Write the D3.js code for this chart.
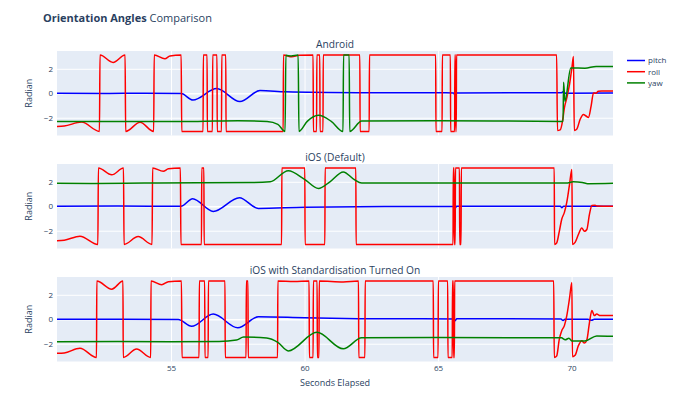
<!DOCTYPE html>
<html>
<head>
<meta charset="utf-8">
<script src="https://cdn.jsdelivr.net/npm/d3@7"></script>
<style>
  body { margin: 0; background: #fff; }
  text { font-family: "Open Sans", verdana, arial, sans-serif; fill: #2a3f5f; }
</style>
</head>
<body>
<div id="chart"></div>
<script>
// ---- data (seconds elapsed, radian) ----
var panelTitles = ["Android", "iOS (Default)", "iOS with Standardisation Turned On"];
var seriesNames = ["pitch", "roll", "yaw"];
var xTicks = [55, 60, 65, 70];
var yTicks = [-2, 0, 2];

var androidPitch = [
  [50.73, 0.0], [52.5, -0.02], [54.0, 0.0], [55.38, -0.03], [55.82, -0.55], [56.71, 0.38],
  [57.58, -0.68], [58.33, 0.22], [59.3, 0.12], [62.0, 0.05], [65.58, 0.03], [65.63, -0.15],
  [65.69, 0.03], [69.62, 0.04], [69.7, 0.15], [69.76, 0.0], [71.55, 0.02]
];
var androidRoll = [
  [50.73, -2.72], [51.0, -2.68], [51.65, -2.36], [52.32, -3.12], [52.34, 3.12], [52.83, 2.52],
  [53.28, 3.12], [53.3, -3.12], [53.84, -2.38], [54.35, -3.12], [54.37, 3.12], [54.77, 2.82],
  [54.96, 3.05], [55.38, 3.12], [55.4, -3.12], [56.2, -3.12], [56.21, 3.12], [56.35, 3.12],
  [56.36, -3.12], [56.55, -3.12], [56.56, 3.12], [56.72, 3.12], [56.73, -3.12], [56.89, -3.12],
  [56.9, 3.12], [57.05, 3.12], [57.06, -3.12], [59.2, -3.12], [59.21, 3.12], [59.52, 2.98],
  [59.8, 3.1], [60.32, 3.12], [60.33, -3.12], [60.45, -3.12], [60.46, 3.12], [60.57, 3.12],
  [60.58, -3.12], [60.69, -3.12], [60.7, 3.12], [62.07, 3.12], [62.08, -3.12], [62.42, -3.12],
  [62.43, 3.12], [64.91, 3.12], [64.92, -3.12], [65.15, -3.12], [65.16, 3.12], [65.46, 3.12],
  [65.47, -3.12], [65.62, -3.12], [65.63, 3.12], [65.65, 3.12], [65.66, -3.12], [65.68, -3.12],
  [65.69, 3.12], [69.44, 3.12], [69.47, -3.05], [69.57, -3.0], [69.66, -2.27], [69.73, -1.19],
  [69.82, -0.38], [69.92, 0.7], [70.01, 2.06], [70.07, 3.0], [70.1, -3.05], [70.19, -2.95],
  [70.32, -2.13], [70.44, -1.73], [70.54, -1.86], [70.63, -1.98], [70.73, -1.05], [70.82, 0.03],
  [70.91, 0.0], [71.0, 0.16], [71.13, 0.19], [71.55, 0.19]
];
var androidYaw = [
  [50.73, -2.3], [52.0, -2.3], [54.0, -2.32], [56.0, -2.3], [57.5, -2.25], [58.6, -2.32],
  [59.0, -2.55], [59.27, -3.12], [59.3, 3.1], [59.5, 3.05], [59.76, 3.12], [59.79, -3.12],
  [60.1, -2.3], [60.52, -1.8], [61.0, -2.3], [61.44, -3.12], [61.46, 3.12], [61.67, 3.12],
  [61.69, -3.12], [62.14, -2.27], [65.0, -2.25], [69.68, -2.3], [69.7, 0.9], [69.75, -0.65],
  [69.97, 2.06], [70.5, 2.05], [70.92, 2.19], [71.55, 2.19]
];

var iosPitch = [
  [50.73, 0.0], [53.0, 0.02], [55.37, 0.0], [55.81, 0.62], [56.58, -0.42], [57.56, 0.7],
  [58.27, -0.18], [60.0, -0.08], [63.0, -0.03], [65.6, -0.02], [65.64, -0.15], [65.7, 0.0],
  [69.58, 0.0], [69.63, -0.12], [69.7, 0.0], [71.55, 0.0]
];
var iosRoll = [
  [50.73, -2.82], [51.0, -2.78], [51.59, -2.45], [52.26, -3.12], [52.28, 3.12], [52.78, 2.57],
  [53.22, 3.12], [53.24, -3.12], [53.77, -2.48], [54.29, -3.12], [54.31, 3.12], [54.71, 2.86],
  [54.9, 3.06], [55.35, 3.12], [55.37, -3.12], [56.14, -3.12], [56.15, 3.12], [56.23, 3.12],
  [56.24, -3.12], [59.14, -3.12], [59.15, 3.12], [60.01, 3.12], [60.02, -3.12], [60.76, -3.12],
  [60.77, 3.12], [61.92, 3.12], [61.93, -3.12], [65.56, -3.12], [65.57, 3.12], [65.6, 3.12],
  [65.61, -3.12], [65.64, -3.12], [65.65, 3.12], [65.8, 3.12], [65.81, -3.12], [65.86, -3.12],
  [65.87, 3.12], [69.35, 3.12], [69.36, -3.12], [69.44, -3.0], [69.54, -2.05], [69.63, -1.06],
  [69.73, -0.5], [69.82, 0.34], [69.92, 1.75], [70.01, 3.0], [70.03, -3.12], [70.13, -2.95],
  [70.25, -2.33], [70.38, -1.77], [70.48, -2.05], [70.57, -1.9], [70.67, -0.64], [70.76, 0.06],
  [70.88, 0.08], [70.94, 0.02], [71.55, 0.0]
];
var iosYaw = [
  [50.73, 1.88], [52.0, 1.86], [54.0, 1.9], [56.0, 1.92], [58.0, 1.94], [58.71, 2.0],
  [59.39, 2.9], [60.0, 2.2], [60.52, 1.45], [60.95, 2.0], [61.45, 2.8], [61.85, 2.2],
  [62.14, 1.9], [65.0, 1.9], [69.8, 1.9], [70.06, 2.0], [70.4, 1.95], [70.6, 1.85],
  [71.55, 1.88]
];

var stdPitch = [
  [50.73, 0.0], [53.0, 0.0], [55.27, -0.02], [55.77, -0.58], [56.58, 0.42], [57.5, -0.7],
  [58.27, 0.2], [60.0, 0.12], [62.0, 0.05], [65.6, 0.02], [65.64, -0.12], [65.7, 0.05],
  [69.6, 0.03], [69.68, -0.1], [69.75, 0.0], [70.6, 0.0], [70.75, -0.08], [70.85, 0.0],
  [71.55, 0.0]
];
var stdRoll = [
  [50.73, -2.78], [51.0, -2.75], [51.59, -2.37], [52.21, -3.12], [52.22, 3.12], [52.78, 2.46],
  [53.2, 3.12], [53.21, -3.12], [53.71, -2.44], [54.24, -3.12], [54.25, 3.12], [54.65, 2.82],
  [54.9, 3.07], [55.39, 3.12], [55.41, -3.12], [56.05, -3.12], [56.06, 3.12], [56.26, 3.12],
  [56.27, -3.12], [56.39, -3.12], [56.4, 3.12], [57.02, 3.12], [57.03, -3.12], [57.81, -3.12],
  [57.82, 3.12], [57.88, 3.12], [57.89, -3.12], [58.99, -3.12], [59.0, 3.12], [59.6, 3.08],
  [60.17, 3.12], [60.18, -3.12], [60.32, -3.12], [60.33, 3.12], [60.47, 3.12], [60.48, -3.12],
  [60.54, -3.12], [60.55, 3.12], [61.45, 3.05], [62.02, 3.12], [62.03, -3.12], [62.26, -3.12],
  [62.27, 3.12], [64.82, 3.12], [64.83, -3.12], [65.0, -3.12], [65.01, 3.12], [65.36, 3.12],
  [65.37, -3.12], [65.53, -3.12], [65.54, 3.12], [65.57, 3.12], [65.58, -3.12], [65.61, -3.12],
  [65.62, 3.12], [69.33, 3.12], [69.35, -3.12], [69.44, -3.0], [69.54, -1.63], [69.63, -0.94],
  [69.73, -0.52], [69.82, 0.3], [69.92, 1.68], [70.01, 3.0], [70.03, -3.06], [70.13, -2.95],
  [70.25, -2.18], [70.38, -1.76], [70.48, -1.95], [70.57, -1.7], [70.67, -0.25], [70.76, 0.72],
  [70.85, 0.3], [70.94, 0.42], [71.07, 0.3], [71.55, 0.3]
];
var stdYaw = [
  [50.73, -1.84], [53.0, -1.82], [55.0, -1.84], [56.8, -1.82], [57.45, -1.7], [57.72, -1.45],
  [58.58, -1.54], [59.0, -1.9], [59.39, -2.59], [60.46, -1.07], [61.45, -2.42], [62.14, -1.52],
  [65.0, -1.5], [69.62, -1.52], [69.76, -1.68], [69.9, -1.55], [70.01, -1.77], [70.5, -1.77],
  [70.94, -1.37], [71.55, -1.4]
];

var panels = [
  [androidPitch, androidRoll, androidYaw],
  [iosPitch, iosRoll, iosYaw],
  [stdPitch, stdRoll, stdYaw]
];

// ---- layout ----
var width = 674, height = 400;
var plotLeft = 57, plotRight = 613;
var panelTops = [51, 164, 277], panelHeight = 84.5;
var colors = ["#0000ff", "#ff0000", "#008000"];
var fontStack = "'Open Sans', verdana, arial, sans-serif";

var svg = d3.select("#chart")
  .append("svg")
    .attr("width", width)
    .attr("height", height);

var x = d3.scaleLinear()
  .domain([50.73, 71.55])
  .range([plotLeft, plotRight]);

// chart title
var title = svg.append("text")
  .attr("x", 43)
  .attr("y", 21.5)
  .attr("text-anchor", "start")
  .attr("font-size", 11);
title.append("tspan").attr("x", 43).attr("font-weight", "bold").text("Orientation Angles");
title.append("tspan").text(" Comparison");

panels.forEach(function(series, i) {
  var top = panelTops[i];
  var y = d3.scaleLinear()
    .domain([-3.455, 3.455])
    .range([top + panelHeight, top]);

  var g = svg.append("g");

  // background
  g.append("rect")
    .attr("x", plotLeft)
    .attr("y", top)
    .attr("width", plotRight - plotLeft)
    .attr("height", panelHeight)
    .attr("fill", "#e5ecf6");

  // vertical grid
  g.append("g")
    .attr("transform", "translate(0," + (top + panelHeight) + ")")
    .call(d3.axisBottom(x).tickValues(xTicks).tickSize(-panelHeight).tickFormat(""))
    .call(function(a) {
      a.select(".domain").remove();
      a.selectAll("line").attr("stroke", "#fff").attr("stroke-width", 1);
    });

  // horizontal grid + y labels
  g.append("g")
    .attr("transform", "translate(" + plotLeft + ",0)")
    .call(d3.axisLeft(y).tickValues(yTicks).tickFormat(d3.format("d"))
      .tickSize(-(plotRight - plotLeft)).tickPadding(4))
    .call(function(a) {
      a.select(".domain").remove();
      a.selectAll("line")
        .attr("stroke", "#fff")
        .attr("stroke-width", function(d) { return d === 0 ? 1.6 : 1; });
      a.selectAll("text")
        .attr("font-size", 8)
        .attr("fill", "#2a3f5f")
        .style("font-family", fontStack);
    });

  // clip
  svg.append("clipPath")
    .attr("id", "clip" + i)
    .append("rect")
      .attr("x", plotLeft)
      .attr("y", top)
      .attr("width", plotRight - plotLeft)
      .attr("height", panelHeight);

  var line = d3.line()
    .curve(d3.curveMonotoneX)
    .x(function(d) { return x(d[0]); })
    .y(function(d) { return y(d[1]); });

  series.forEach(function(data, k) {
    g.append("path")
      .datum(data)
      .attr("clip-path", "url(#clip" + i + ")")
      .attr("fill", "none")
      .attr("stroke", colors[k])
      .attr("stroke-width", 1.5)
      .attr("stroke-linejoin", "round")
      .attr("d", line);
  });

  // panel title
  svg.append("text")
    .attr("x", (plotLeft + plotRight) / 2)
    .attr("y", top - 3.5)
    .attr("text-anchor", "middle")
    .attr("font-size", 10.2)
    .text(panelTitles[i]);

  // y axis title
  svg.append("text")
    .attr("transform", "translate(31.5," + (top + panelHeight / 2) + ") rotate(-90)")
    .attr("text-anchor", "middle")
    .attr("font-size", 9)
    .text("Radian");

  // x tick labels on the bottom panel only
  if (i === panels.length - 1) {
    g.append("g")
      .attr("transform", "translate(0," + (top + panelHeight) + ")")
      .call(d3.axisBottom(x).tickValues(xTicks).tickSize(0).tickPadding(3.5))
      .call(function(a) {
        a.select(".domain").remove();
        a.selectAll("text")
          .attr("font-size", 8)
          .attr("fill", "#2a3f5f")
          .style("font-family", fontStack);
      });
  }
});

// x axis title
svg.append("text")
  .attr("x", (plotLeft + plotRight) / 2)
  .attr("y", 385.5)
  .attr("text-anchor", "middle")
  .attr("font-size", 9)
  .text("Seconds Elapsed");

// legend
var legend = svg.append("g");
seriesNames.forEach(function(name, k) {
  var ly = 60.5 + k * 11.2;
  legend.append("line")
    .attr("x1", 627).attr("x2", 645)
    .attr("y1", ly).attr("y2", ly)
    .attr("stroke", colors[k])
    .attr("stroke-width", 1.5);
  legend.append("text")
    .attr("x", 648)
    .attr("y", ly + 2.8)
    .attr("font-size", 8)
    .text(name);
});
</script>
</body>
</html>
